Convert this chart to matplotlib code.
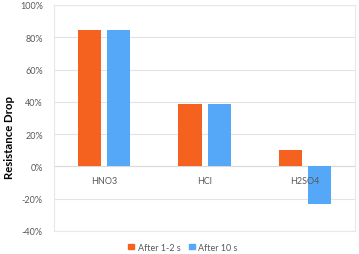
import matplotlib
matplotlib.use("Agg")
import matplotlib.pyplot as plt
import numpy as np
from matplotlib.patches import Patch

categories = ["HNO3", "HCl", "H2SO4"]
after_1_2s = [84.5, 38.5, 10.0]
after_10s = [84.5, 38.5, -23.5]
series_names = ["After 1-2 s", "After 10 s"]
yticks = [-40, -20, 0, 20, 40, 60, 80, 100]

plt.rcParams['font.family'] = ['Lato', 'DejaVu Sans']

fig = plt.figure(figsize=(3.59, 2.55), dpi=100)
ax = fig.add_axes([0.1504, 0.0902, 0.8386, 0.8863])

orange = "#F5621F"
blue = "#55A8F7"
x = np.arange(len(categories))
w = 0.23
off = 0.145
ax.bar(x - off, after_1_2s, width=w, color=orange, zorder=3)
ax.bar(x + off, after_10s, width=w, color=blue, zorder=3)

ax.set_xlim(-0.5, 2.5)
ax.set_ylim(-40, 100)
ax.set_yticks(yticks)
ax.set_yticklabels([f"{v}%" for v in yticks], color="#595959", fontsize=6.5)
ax.tick_params(axis='y', length=0, pad=8)
ax.set_xticks([])
ax.grid(axis='y', color="#E3E3E3", linewidth=0.8, zorder=0)
ax.axhline(0, color="#D9D9D9", linewidth=0.8, zorder=2)
for s in ax.spines.values():
    s.set_color("#E8E8E8")
    s.set_linewidth(0.8)

for i, c in enumerate(categories):
    ax.annotate(c, (i, 0), xytext=(0, -7), textcoords='offset points',
                ha='center', va='top', fontsize=6.5, color="#595959")

fig.text(10 / 359, 1 - 138 / 255, "Resistance Drop", rotation=90,
         ha='center', va='center', fontsize=8.2, fontweight='bold', color='black')

handles = [Patch(color=orange), Patch(color=blue)]
fig.legend(handles, series_names, loc='center', bbox_to_anchor=(0.51, 0.027),
           ncol=2, frameon=False, fontsize=6.5, handlelength=0.6, handleheight=0.6,
           handletextpad=0.4, columnspacing=1.0, labelcolor="#595959")

fig.savefig("out.png", dpi=100)
